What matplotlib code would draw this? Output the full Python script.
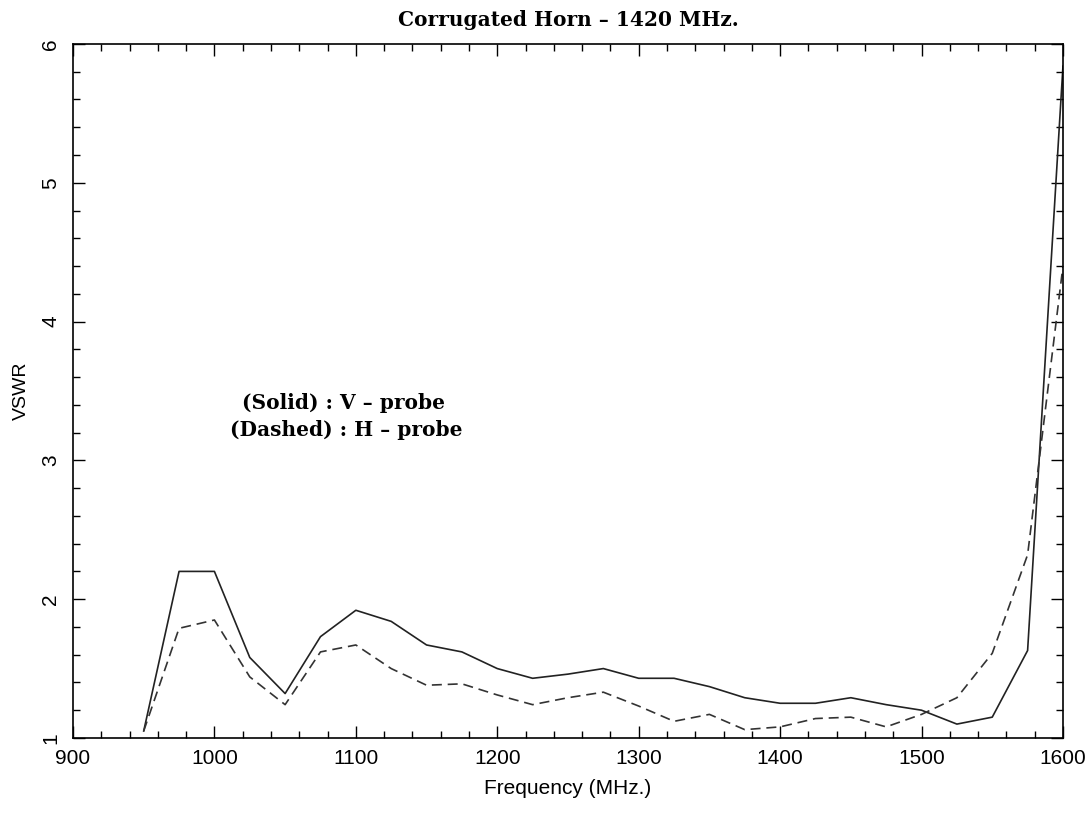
import matplotlib
matplotlib.use("Agg")
import matplotlib.pyplot as plt
from matplotlib.ticker import MultipleLocator

# VSWR vs frequency for the 1420 MHz corrugated horn
freq = [950, 975, 1000, 1025, 1050, 1075, 1100, 1125, 1150, 1175, 1200, 1225, 1250, 1275,
        1300, 1325, 1350, 1375, 1400, 1425, 1450, 1475, 1500, 1525, 1550, 1575, 1600]
v_probe = [1.05, 2.20, 2.20, 1.58, 1.32, 1.73, 1.92, 1.84, 1.67, 1.62, 1.50, 1.43, 1.46, 1.50,
           1.43, 1.43, 1.37, 1.29, 1.25, 1.25, 1.29, 1.24, 1.20, 1.10, 1.15, 1.63, 5.84]
h_probe = [1.05, 1.79, 1.85, 1.44, 1.24, 1.62, 1.67, 1.50, 1.38, 1.39, 1.31, 1.24, 1.29, 1.33,
           1.23, 1.12, 1.17, 1.06, 1.08, 1.14, 1.15, 1.08, 1.17, 1.29, 1.61, 2.32, 4.40]

SERIF = "DejaVu Serif"
SANS = "Liberation Sans"

fig = plt.figure(figsize=(10.91, 8.14), dpi=100)
ax = fig.add_axes([0.0669, 0.0934, 0.9074, 0.8526])

ax.plot(freq, v_probe, color="#222222", lw=1.2, ls="-")
ax.plot(freq, h_probe, color="#333333", lw=1.2, ls=(0, (6, 3.5)))

ax.set_xlim(900, 1600)
ax.set_ylim(1, 6)
ax.xaxis.set_major_locator(MultipleLocator(100))
ax.xaxis.set_minor_locator(MultipleLocator(20))
ax.yaxis.set_major_locator(MultipleLocator(1))
ax.yaxis.set_minor_locator(MultipleLocator(0.2))
ax.tick_params(which="both", direction="in", top=True, right=True, width=1.0)
ax.tick_params(which="major", length=8.5, labelsize=15)
ax.tick_params(axis="x", which="major", pad=8)
ax.tick_params(axis="y", which="major", pad=9)
ax.tick_params(which="minor", length=5)
for lab in ax.get_xticklabels() + ax.get_yticklabels():
    lab.set_fontfamily(SANS)
for lab in ax.get_yticklabels():
    lab.set_rotation(90)
    lab.set_va("center")
for sp in ax.spines.values():
    sp.set_linewidth(1.2)

ax.set_xlabel("Frequency (MHz.)", fontsize=15, family=SANS, labelpad=8)
ax.set_ylabel("VSWR", fontsize=14, family=SANS, labelpad=8)
fig.text(0.521, 0.975, "Corrugated Horn \u2013 1420 MHz.", ha="center", va="center",
         fontsize=14.5, family=SERIF, fontweight="bold")

fig.text(0.315, 0.505, "(Solid) : V \u2013 probe", ha="center", va="center",
         fontsize=14.5, family=SERIF, fontweight="bold")
fig.text(0.317, 0.472, "(Dashed) : H \u2013 probe", ha="center", va="center",
         fontsize=14.5, family=SERIF, fontweight="bold")

fig.savefig("out.png", dpi=100)
